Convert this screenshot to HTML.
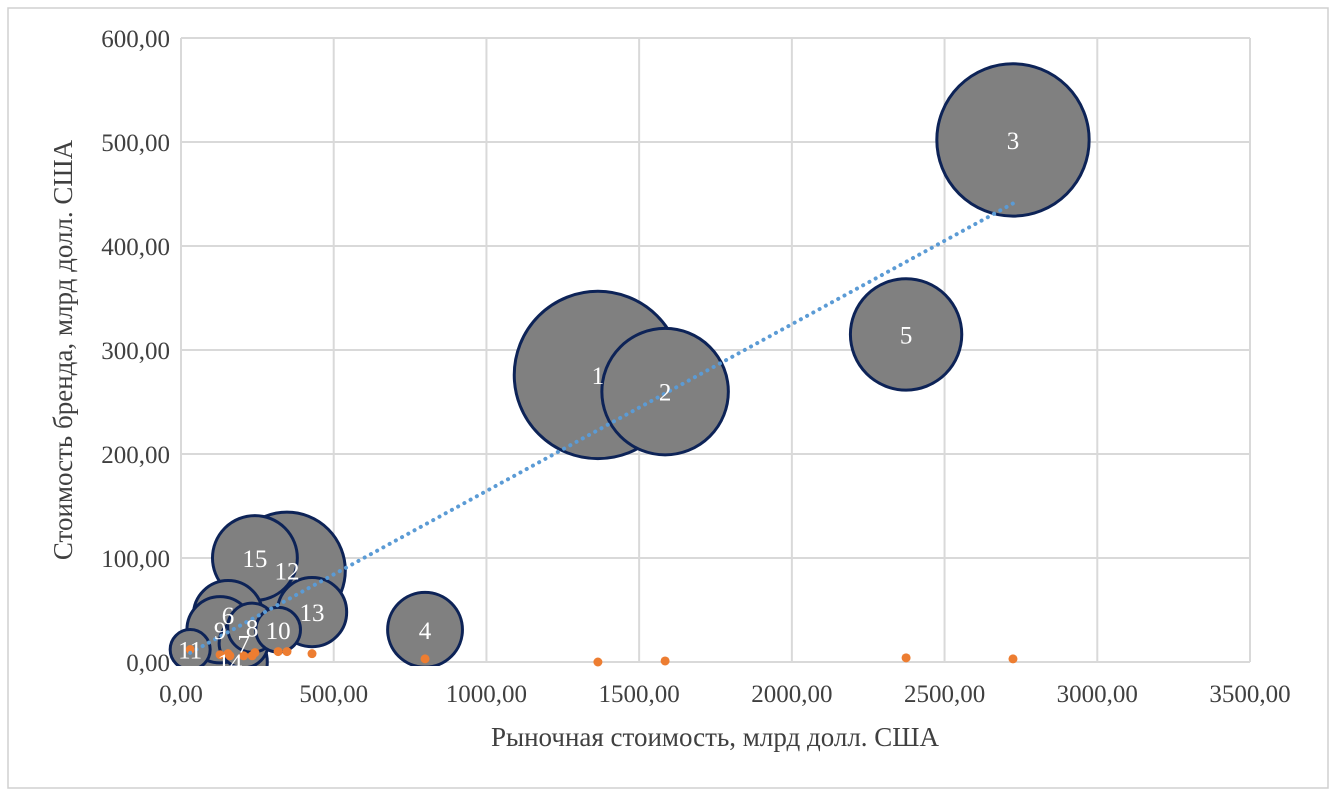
<!DOCTYPE html>
<html><head><meta charset="utf-8"><style>
body{margin:0;background:#fff;}
svg{display:block;font-family:"Liberation Serif","DejaVu Serif",serif;}
</style></head><body>
<svg id="chart" width="1337" height="798">
<defs><clipPath id="pc"><rect x="160" y="20" width="1100" height="646"/></clipPath></defs>
<rect x="8" y="8" width="1320" height="780" fill="#fff" stroke="#d0d0d0" stroke-width="1.5"/>
<g id="grid"></g>
<g id="bubbles" clip-path="url(#pc)"></g>
<g id="dots"></g>
<g id="trend"></g>
<g id="labels"></g>
<text x="715" y="746" text-anchor="middle" font-size="27" fill="#404040">Рыночная стоимость, млрд долл. США</text>
<text transform="translate(72,350) rotate(-90)" text-anchor="middle" font-size="27" fill="#404040">Стоимость бренда, млрд долл. США</text>
</svg>
<script>
const xTicks=[0,500,1000,1500,2000,2500,3000,3500];
const yTicks=[0,100,200,300,400,500,600];
const bubbleLabels=["1","2","3","4","5","6","7","8","9","10","11","12","13","14","15"];
const marketCap=[1365,1585,2724,799,2374,154,205,233,128,318,30,347,429,160,242];
const brandValue=[276,260,502,31,315,45,18,33,31,31,12,88,48,0,100];
const bubbleSize=[70,40,58,14,31,12,6,6,11,5,4,34,12,14,18];
const smallValues=[0,1,3,3,4,8,6,6,7,10,12,10,8,6,9];
const trendCoef=[4,0.1604];
const trendRange=[30,2724];

const X0=181,X1=1250,Y0=662,Y1=38;
const xs=v=>X0+(v-0)/(3500)*(X1-X0);
const ys=v=>Y0-(v)/(600)*(Y0-Y1);
const NS="http://www.w3.org/2000/svg";
function mk(tag,attrs,parent){const e=document.createElementNS(NS,tag);for(const k in attrs)e.setAttribute(k,attrs[k]);parent.appendChild(e);return e;}
const fmt=v=>v.toFixed(2).replace('.',',');
const grid=document.getElementById('grid');
yTicks.forEach(t=>{
 const l=mk('line',{x1:X0,x2:X1,y1:ys(t),y2:ys(t),stroke:'#d9d9d9','stroke-width':2},grid);
 
 
 const tx=mk('text',{x:170,y:ys(t)+9,'text-anchor':'end','font-size':25,fill:'#404040'},grid);
 tx.textContent=fmt(t);
 
 
});
xTicks.forEach(t=>{
 const l=mk('line',{x1:xs(t),x2:xs(t),y1:Y1,y2:Y0,stroke:'#d9d9d9','stroke-width':2},grid);
 
 
 const tx=mk('text',{x:xs(t),y:702,'text-anchor':'middle','font-size':25,fill:'#404040'},grid);
 tx.textContent=fmt(t);
 
 
});
const bub=document.getElementById('bubbles');
const order=bubbleLabels.map((_,i)=>i).sort((a,b)=>bubbleSize[b]-bubbleSize[a]);
order.forEach(i=>{
 const c=mk('circle',{cx:xs(marketCap[i]),cy:ys(brandValue[i]),r:Math.sqrt(bubbleSize[i])*10,fill:'#808080',stroke:'#0d2357','stroke-width':3},bub);
 
 
});
const tr=document.getElementById('trend');
const tl=mk('line',{x1:xs(trendRange[0]),y1:ys(trendCoef[0]+trendCoef[1]*trendRange[0]),x2:xs(trendRange[1]),y2:ys(trendCoef[0]+trendCoef[1]*trendRange[1]),stroke:'#5b9bd5','stroke-width':4,'stroke-dasharray':'0.1 7','stroke-linecap':'round'},tr);


const dots=document.getElementById('dots');
marketCap.forEach((v,i)=>{
 const d=mk('circle',{cx:xs(v),cy:ys(smallValues[i]),r:4.5,fill:'#ed7d31'},dots);
 
 
});
const lab=document.getElementById('labels');
bubbleLabels.forEach((t,i)=>{
 const tx=mk('text',{x:xs(marketCap[i]),y:ys(brandValue[i])+9,'text-anchor':'middle','font-size':25,fill:'#fff'},lab);
 tx.textContent=t;
 
 
});
</script>
</body></html>
